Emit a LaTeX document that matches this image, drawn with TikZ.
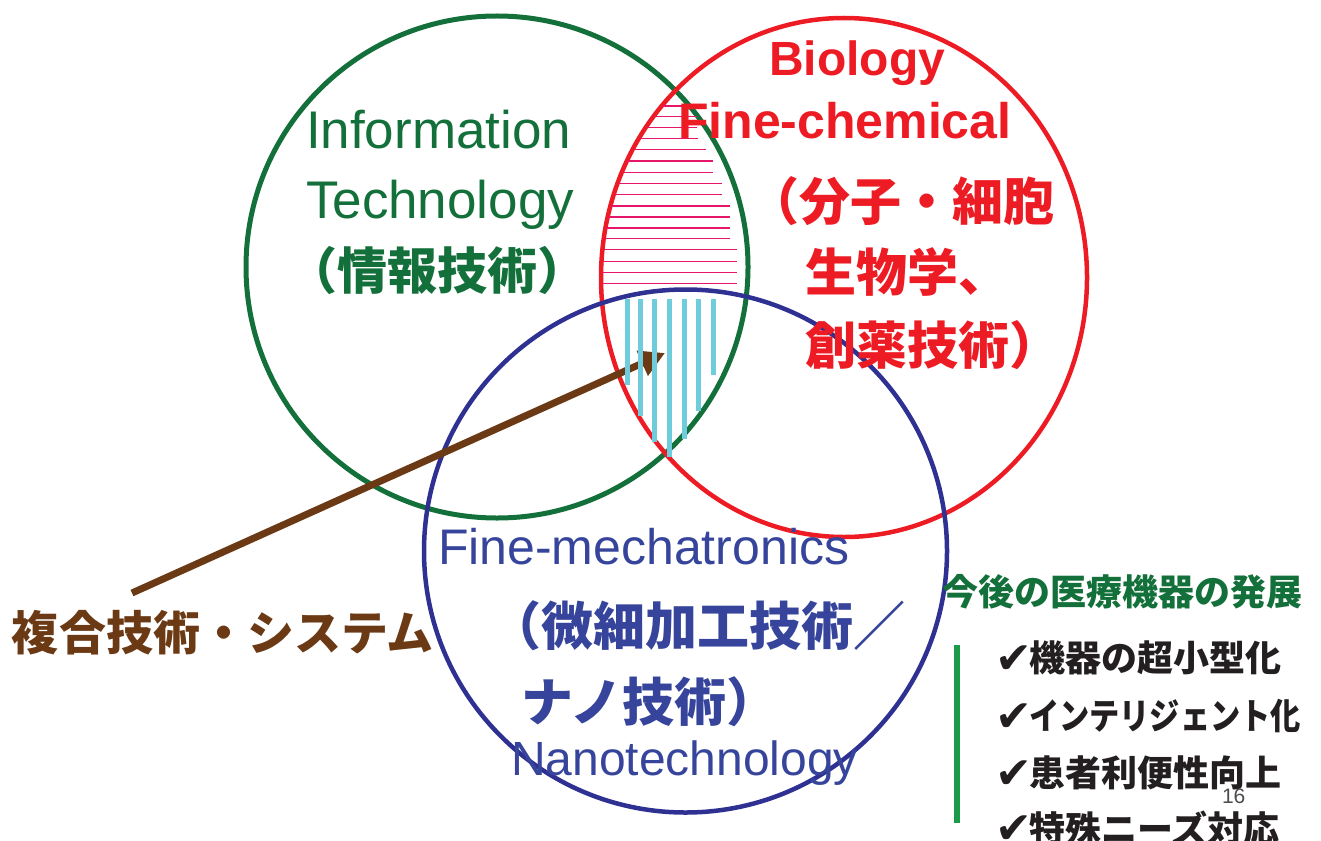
\documentclass[tikz,border=0pt]{standalone}
\usepackage{fontspec}
\setmainfont{Liberation Sans}
\newfontfamily\jp{Noto Sans CJK JP}
\newfontfamily\dv{DejaVu Sans}
\usetikzlibrary{arrows.meta}
\definecolor{cgreen}{HTML}{13703A}
\definecolor{cred}{HTML}{ED1C24}
\definecolor{cblue}{HTML}{2E3192}
\definecolor{tblue}{HTML}{36459B}
\definecolor{cbrown}{HTML}{6B3A14}
\definecolor{cmag}{HTML}{E6176A}
\definecolor{ccyan}{HTML}{6ECCDD}
\definecolor{cbar}{HTML}{1A9B48}
\definecolor{cink}{HTML}{231F20}
\newcommand\fsz[1]{\fontsize{#1}{#1}\selectfont}
\tikzset{
  txt/.style={inner sep=0pt, outer sep=0pt},
  hatchR/.style={cmag, line width=1.4pt},
  hatchC/.style={ccyan, line width=5pt},
  jpb/.style={txt, anchor=west, font=\jp\bfseries},
  chk/.style={txt, anchor=west, text=cink, font=\dv\bfseries\fsz{44}},
}
\begin{document}
\begin{tikzpicture}[x=1pt,y=-1pt]
\useasboundingbox (0,0) rectangle (1321,840);
% circles
\draw[cgreen, line width=5pt] (497,267) circle[radius=251pt];
\draw[cred, line width=4.5pt] (844,277.5) ellipse[x radius=243pt, y radius=259.5pt];
\draw[cblue, line width=4.5pt] (685.5,551) circle[radius=261.5pt];
% arrow
\coordinate (arrS) at (132,593);
\coordinate (arrE) at (665,353);
\draw[cbrown, line width=7pt, -{Triangle[length=25pt,width=26pt]}] (arrS) -- (arrE);
% magenta hatch
\begin{scope}
\clip (844,277.5) ellipse[x radius=242pt, y radius=258.5pt];
\foreach \yy/\xe in {106/697,116.7/697,127.7/697,138.7/698,149.7/706,161/713,172.7/713,183.7/722,194.7/722,206/730,217/730,228/730,238.7/730,249.7/737,261.3/737,272.7/737,283.7/737}
  \draw[hatchR] (590,\yy) -- (\xe,\yy);
\end{scope}
% cyan bars
\foreach \xx/\yb in {627.3/385,640.3/416,654.3/442,669.3/457,684.3/439,698.3/411,713.3/375}
  \draw[hatchC] (\xx,299) -- (\xx,\yb);
% green texts
\node[txt, anchor=base west, text=cgreen] (info) at (306,148) {\fsz{53}Information};
\node[txt, anchor=base west, text=cgreen] (tech) at (306,218) {\fsz{53}Technology};
\node[jpb, text=cgreen] (itjp) at (287,270) {\fsz{50}（情報技術）};
% red texts
\node[txt, anchor=base west, text=cred] (bio) at (769,76) {\fsz{48}\bfseries Biology};
\node[txt, anchor=base west, text=cred] (fchem) at (678,138) {\fsz{50}\bfseries Fine-chemical};
\node[jpb, text=cred] (r1) at (748,201) {\fsz{51}（分子・細胞};
\node[jpb, text=cred] (r2) at (805,272) {\fsz{51}生物学、};
\node[jpb, text=cred] (r3) at (805,345) {\fsz{51}創薬技術）};
% blue texts
\node[txt, anchor=base west, text=tblue] (fmech) at (438,564) {\fsz{50}Fine-mechatronics};
\node[jpb, text=tblue] (b1) at (489,626) {\fsz{52}（微細加工技術／};
\node[jpb, text=tblue] (b2) at (521,702) {\fsz{52}ナノ技術）};
\node[txt, anchor=base west, text=tblue] (nano) at (511,775) {\fsz{48}Nanotechnology};
% brown label
\node[jpb, text=cbrown] (fukugo) at (12,633) {\fsz{47}複合技術・システム};
% right column
\node[jpb, text=cgreen] (head) at (942,592) {\fsz{36}今後の医療機器の発展};
\draw[cbar, line width=5.5pt] (957,645) -- (957,823);
\node[chk] (c1) at (995,660) {✔};
\node[jpb, text=cink] (t1) at (1029,658) {\fsz{36}機器の超小型化};
\node[chk] (c2) at (995,718) {✔};
\node[jpb, text=cink, xscale=0.84] (t2) at (1029,716) {\fsz{36}インテリジェント化};
\node[chk] (c3) at (995,775) {✔};
\node[jpb, text=cink] (t3) at (1029,773) {\fsz{36}患者利便性向上};
\node[chk] (c4) at (995,830) {✔};
\node[jpb, text=cink] (t4) at (1029,828) {\fsz{36}特殊ニーズ対応};
\node[txt, anchor=base west, text=cink!80] (pg) at (1222,803) {\fsz{21}16};
\end{tikzpicture}
\end{document}
